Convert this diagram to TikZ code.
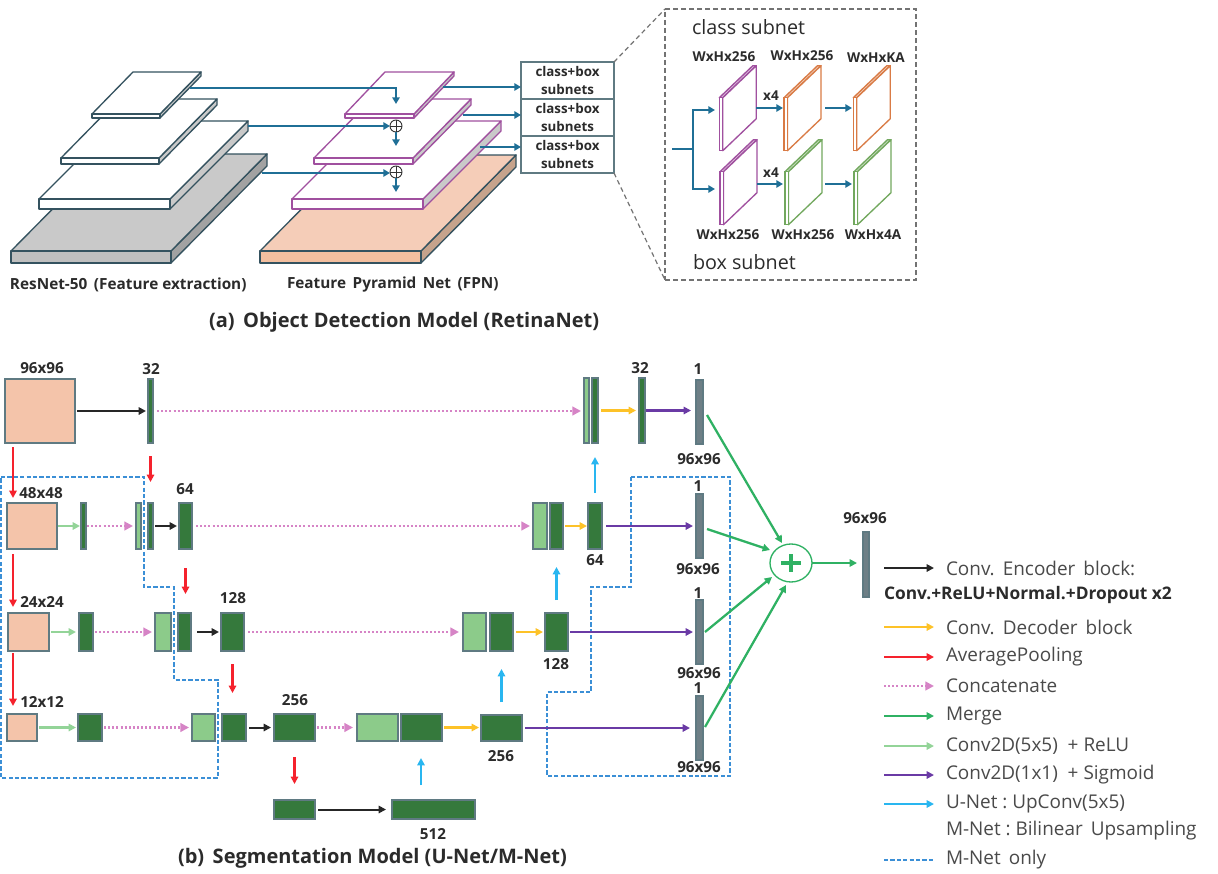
\documentclass[tikz,border=0pt]{standalone}
\usepackage{fontspec}
\setmainfont{Open Sans}
\usetikzlibrary{arrows.meta,shapes.geometric,calc}
\definecolor{cTeal}{HTML}{34525F}
\definecolor{cBlueAr}{HTML}{1F6F96}
\definecolor{cPurp}{HTML}{A0509F}
\definecolor{cOrg}{HTML}{D97B45}
\definecolor{cLeaf}{HTML}{72A85E}
\definecolor{cPeach}{HTML}{F4C4AA}
\definecolor{cPeachTop}{HTML}{F5CDB8}
\definecolor{cPeachFront}{HTML}{F3BF9F}
\definecolor{cPeachSide}{HTML}{C6A38C}
\definecolor{cGrayTop}{HTML}{C9C9C9}
\definecolor{cGraySide}{HTML}{A2A2A2}
\definecolor{cDark}{HTML}{35793C}
\definecolor{cLight}{HTML}{8CCB8A}
\definecolor{cCol}{HTML}{6E7F86}
\definecolor{cEdge}{HTML}{5F7A82}
\definecolor{cRedAr}{HTML}{F5222D}
\definecolor{cPink}{HTML}{D684C6}
\definecolor{cMerge}{HTML}{2FB163}
\definecolor{cLG}{HTML}{93D498}
\definecolor{cViolet}{HTML}{6A3AA5}
\definecolor{cSky}{HTML}{29B6F0}
\definecolor{cYel}{HTML}{FDC228}
\definecolor{cDash}{HTML}{3B8FD6}
\definecolor{cText}{HTML}{2B2B2B}
\definecolor{cLeg}{HTML}{4A4A4A}
\tikzset{
 x=0.75pt,y=-0.75pt,
 every node/.style={text=cText,inner sep=0pt,outer sep=0pt},
 lab/.style={font=\bfseries\fontsize{11.4}{13}\selectfont},
 capt/.style={font=\bfseries\fontsize{11.5}{13}\selectfont,anchor=west},
 title/.style={font=\bfseries\fontsize{15}{17}\selectfont,anchor=west},
 sub/.style={font=\fontsize{14.8}{17}\selectfont,anchor=west},
 wh/.style={font=\fontsize{10.2}{12}\selectfont\bfseries},
 subbox/.style={draw=cEdge,line width=1pt,fill=white},
 subtxt/.style={align=center,font=\bfseries\fontsize{10}{13.2}\selectfont},
 inp/.style={draw=cEdge,line width=1pt,fill=cPeach},
 dk/.style={draw=cEdge,line width=1pt,fill=cDark},
 lt/.style={draw=cEdge,line width=1pt,fill=cLight},
 col/.style={draw=cEdge,line width=1pt,fill=cCol},
 tipA/.style={-{Triangle[length=5.5pt,width=5.5pt]}},
 gap/.style 2 args={shorten <=#1*0.75pt,shorten >=#2*0.75pt},
 arB/.style={tipA,draw=black!85,line width=1.5pt},
 arR/.style={tipA,draw=cRedAr,line width=1.7pt},
 arP/.style={-{Triangle[length=6.5pt,width=6.5pt]},draw=cPink,line width=1.6pt,dash pattern=on 1.5pt off 1.6pt},
 arM/.style={tipA,draw=cMerge,line width=1.7pt},
 arL/.style={tipA,draw=cLG,line width=1.7pt},
 arV/.style={tipA,draw=cViolet,line width=1.8pt},
 arS/.style={tipA,draw=cSky,line width=1.7pt},
 arY/.style={tipA,draw=cYel,line width=1.7pt},
 arT/.style={-{Triangle[length=5pt,width=5.5pt]},draw=cBlueAr,line width=1.6pt},
 mnet/.style={draw=cDash,line width=1.4pt,dash pattern=on 3.2pt off 1.6pt},
 greyd/.style={draw=black!55,line width=0.9pt,dash pattern=on 3.5pt off 2.5pt},
 leg/.style={font=\fontsize{14.2}{16}\selectfont,anchor=west,text=cLeg},
}
% name x0 x1 y0 y1 style
\newcommand\blk[6]{\node[#6,minimum width={(#3-#2)*0.75pt},minimum height={(#5-#4)*0.75pt}] (#1) at ({(#2+#3)/2},{(#4+#5)/2}) {};}
\newcommand\layer[9]{%
 \filldraw[draw=\edgeC,fill=#9,line width=1pt,line join=round] (#2,#3) -- (#5,#6) -- (#5,{#6+#4-#3}) -- (#2,#4) -- cycle;
 \filldraw[draw=\edgeC,fill=#7,line width=1pt,line join=round] (#1,#3) -- (#2,#3) -- (#5,#6) -- ({#5-#2+#1},#6) -- cycle;
 \filldraw[draw=\edgeC,fill=#8,line width=1pt,line join=round] (#1,#3) rectangle (#2,#4);
}
\newcommand\plate[3]{%
 \filldraw[draw=#3,fill=#3!35,line width=1pt,line join=round] (#1,#2) -- ({#1+33.5},{#2-32}) -- ({#1+37},{#2-32}) -- ({#1+3.5},#2) -- cycle;
 \filldraw[draw=#3,fill=white,line width=1pt,line join=round] ({#1+3.5},#2) -- ({#1+37},{#2-32}) -- ({#1+37},{#2+21}) -- ({#1+3.5},{#2+53}) -- cycle;
 \filldraw[draw=#3,fill=white,line width=1pt] (#1,#2) rectangle ({#1+3.5},{#2+53});
}
\newcommand\legnd[4]{%
 \coordinate (#1a) at (884,#2);
 \coordinate (#1b) at (934,#2);
 \draw[#3] (#1a) -- (#1b);
 \node[leg] (#1t) at (946,#2) {#4};
}
\begin{document}
\begin{tikzpicture}
\useasboundingbox (0,0) rectangle (1218,874);
\fill[white] (0,0) rectangle (1218,874);
%%%% (a)
\def\edgeC{cTeal}
\layer{11}{171}{251}{263}{267}{154}{cGrayTop}{cGrayTop!95!black}{cGraySide}
\layer{39}{170}{199}{209}{248}{121}{white}{white}{cGrayTop}
\layer{61}{159}{158}{164}{217}{99}{white}{white}{cGrayTop}
\layer{92}{160}{114}{118}{201}{72}{white}{white}{cGrayTop}
\layer{260}{421}{251}{263}{516}{155}{cPeachTop}{cPeachFront}{cPeachSide}
\def\edgeC{cPurp}
\layer{292}{423}{199}{209}{501}{121}{white}{white}{cGrayTop}
\layer{314}{413}{158}{164}{471}{99}{white}{white}{cGrayTop}
\layer{345}{414}{114}{118}{454}{72}{white}{white}{cGrayTop}

\node[capt] (capR) at (10,285) {ResNet-50\ \,(Feature extraction)};
\node[capt] (capF) at (287,285) {Feature\ \,Pyramid\ \,Net\ \,(FPN)};
\node[title] (titA) at (209,322) {(a)\ \,Object Detection Model (RetinaNet)};

\blk{sb1}{521}{614}{62}{99}{subbox}
\blk{sb2}{521}{614}{99}{136}{subbox}
\blk{sb3}{521}{614}{136}{173}{subbox}
\node[subtxt] (sbt1) at (sb1) {class+box\\subnets};
\node[subtxt] (sbt2) at (sb2) {class+box\\subnets};
\node[subtxt] (sbt3) at (sb3) {class+box\\subnets};

\node[circle,draw=black!80,fill=white,line width=0.7pt,minimum size=9pt] (op1) at (396,126) {};
\node[circle,draw=black!80,fill=white,line width=0.7pt,minimum size=9pt] (op2) at (396,172) {};
\draw[black!80,line width=0.7pt] (op1.north)--(op1.south) (op1.west)--(op1.east) (op2.north)--(op2.south) (op2.west)--(op2.east);

\coordinate (r1) at (190,88); \coordinate (f1) at (396,104);
\draw[arT] (r1) -| (f1);
\coordinate (r2) at (248,126); \draw[arT] (r2) -- (op1.west);
\coordinate (r3) at (262,173); \draw[arT] (r3) -- (r3 -| op2.west);
\coordinate (f2) at (396,146); \draw[arT] (op1.south) -- (f2);
\coordinate (f3) at (396,192); \draw[arT] (op2.south) -- (f3);
\coordinate (o1) at (443,87); \draw[arT] (o1) -- (o1 -| sb1.west);
\coordinate (o2) at (463,115); \draw[arT] (o2) -- (o2 -| sb2.west);
\coordinate (o3) at (480,147); \draw[arT] (o3) -- (o3 -| sb3.west);

\blk{dbox}{665}{916}{9}{280}{greyd}
\draw[greyd] (sb1.north east) -- (dbox.north west);
\draw[greyd] (sb3.south east) -- (dbox.south west);

\node[sub] (sCl) at (692,27) {class subnet};
\node[sub] (sBx) at (693,262) {box subnet};
\plate{719.3}{97.7}{cPurp}
\plate{784}{97.7}{cOrg}
\plate{853.3}{97.7}{cOrg}
\plate{720}{171.7}{cPurp}
\plate{785}{171.7}{cLeaf}
\plate{854}{171.7}{cLeaf}
\node[wh] (w1) at (724,57) {WxHx256};
\node[wh] (w2) at (802,56) {WxHx256};
\node[wh] (w3) at (876,58) {WxHxKA};
\node[wh] (w4) at (728,235) {WxHx256};
\node[wh] (w5) at (803,235) {WxHx256};
\node[wh] (w6) at (873,235) {WxHx4A};
\node[wh] (x1) at (771,96) {x4};
\node[wh] (x2) at (771,173) {x4};
\coordinate (ia) at (672,149); \coordinate (ib) at (693,149);
\coordinate (it) at (715,110); \coordinate (ic) at (715,189);
\draw[cBlueAr,line width=1.6pt] (ia) -- (ib);
\draw[arT] (ib) |- (it);
\draw[arT] (ib) |- (ic);
\coordinate (j1) at (756,108); \coordinate (j2) at (783,108); \draw[arT] (j1) -- (j2);
\coordinate (j3) at (825,108); \coordinate (j4) at (852,108); \draw[arT] (j3) -- (j4);
\coordinate (j5) at (757,184); \coordinate (j6) at (783,184); \draw[arT] (j5) -- (j6);
\coordinate (j7) at (825,184); \coordinate (j8) at (852,184); \draw[arT] (j7) -- (j8);

%%%% (b) M-Net dashed outlines
\draw[mnet] (1,477) -- (144,477) -- (144,587) -- (174,587) -- (174,680) -- (218,680) -- (218,778) -- (1,778) -- cycle;
\draw[mnet] (631,477) -- (730,477) -- (730,776) -- (547,776) -- (547,692) -- (591,692) -- (591,587) -- (631,587) -- cycle;

% row 1
\blk{in1}{5}{75}{379}{443}{inp}
\blk{a32}{148}{153}{379}{443}{dk}
\blk{u1l}{584}{589}{378}{443}{lt}
\blk{u1d}{592}{598}{378}{443}{dk}
\blk{b32}{639}{645}{378}{443}{dk}
\blk{c1}{696}{703}{380}{444}{col}
% row 2
\blk{in2}{7}{57}{503}{549}{inp}
\blk{e2}{81}{86}{503}{549}{dk}
\blk{m2l}{136}{141}{503}{549}{lt}
\blk{m2d}{148}{153}{503}{549}{dk}
\blk{a64}{179}{192}{503}{549}{dk}
\blk{u2l}{533}{547}{503}{549}{lt}
\blk{u2d}{550}{563}{503}{549}{dk}
\blk{b64}{588}{602}{503}{549}{dk}
\blk{c2}{696}{703}{494}{558}{col}
% row 3
\blk{in3}{8}{49}{613}{651}{inp}
\blk{e3}{79}{93}{613}{651}{dk}
\blk{m3l}{155}{171}{613}{651}{lt}
\blk{m3d}{178}{191}{613}{651}{dk}
\blk{a128}{221}{244}{613}{651}{dk}
\blk{u3l}{463}{486}{613}{651}{lt}
\blk{u3d}{490}{513}{613}{651}{dk}
\blk{b128}{545}{568}{613}{651}{dk}
\blk{c3}{696}{703}{600}{664}{col}
% row 4
\blk{in4}{7}{37}{714}{741}{inp}
\blk{e4}{78}{102}{714}{741}{dk}
\blk{m4l}{192}{215}{714}{741}{lt}
\blk{m4d}{222}{246}{714}{741}{dk}
\blk{a256}{274}{315}{714}{741}{dk}
\blk{u4l}{357}{398}{714}{741}{lt}
\blk{u4d}{401}{442}{714}{741}{dk}
\blk{b256}{481}{522}{715}{741}{dk}
\blk{c4}{696}{703}{696}{760}{col}
% row 5
\blk{a5}{274}{315}{800}{819}{dk}
\blk{a512}{392}{475}{800}{819}{dk}
% merge
\node[ellipse,draw=cMerge,line width=1pt,fill=white,minimum width=31.5pt,minimum height=28.5pt] (mg) at (791,563) {};
\coordinate (pl) at (781,563); \coordinate (pr) at (801,563);
\coordinate (pt) at (791,554); \coordinate (pb) at (791,572);
\draw[cMerge,line width=3.6pt] (pl)--(pr) (pt)--(pb);
\blk{cout}{863}{869}{532}{597}{col}

% labels
\node[lab] (l1) at (42,368) {96x96};
\node[lab] (l2) at (151,369) {32};
\node[lab] (l3) at (41,493) {48x48};
\node[lab] (l4) at (185,489) {64};
\node[lab] (l5) at (42,602) {24x24};
\node[lab] (l6) at (233,598) {128};
\node[lab] (l7) at (42,702) {12x12};
\node[lab] (l8) at (295,700) {256};
\node[lab] (l9) at (433,834) {512};
\node[lab] (l10) at (501,756) {256};
\node[lab] (l11) at (556,664) {128};
\node[lab] (l12) at (595,560) {64};
\node[lab] (l13) at (640,368) {32};
\node[lab] (n1) at (698,369) {1};
\node[lab] (n2) at (698,486) {1};
\node[lab] (n3) at (698,593) {1};
\node[lab] (n4) at (698,688) {1};
\node[lab] (s1) at (699,459) {96x96};
\node[lab] (s2) at (698,569) {96x96};
\node[lab] (s3) at (699,673) {96x96};
\node[lab] (s4) at (699,767) {96x96};
\node[lab] (s5) at (865,518) {96x96};
\node[title] (titB) at (178,858) {(b)\ \,Segmentation Model (U-Net/M-Net)};

% row 1 arrows
\draw[arB,gap={2}{2}] (in1.east) -- (a32.west |- in1.east);
\draw[arP,gap={4}{3}] (a32.east) -- (a32.east -| u1l.west);
\draw[arY,gap={3}{3}] (u1d.east) -- (u1d.east -| b32.west);
\draw[arV,gap={1}{5}] (b32.east) -- (b32.east -| c1.west);
% row 2
\draw[arL,gap={1}{1}] (in2.east) -- (e2.west);
\draw[arP,gap={1}{3}] (e2.east) -- (m2l.west);
\draw[arB,gap={2}{2}] (m2d.east) -- (a64.west);
\draw[arP,gap={4}{3}] (a64.east) -- (u2l.west);
\draw[arY,gap={2}{1}] (u2d.east) -- (b64.west);
\draw[arV,gap={4}{3}] (b64.east) -- (b64.east -| c2.west);
% row 3
\draw[arL,gap={2}{3}] (in3.east) -- (e3.west);
\draw[arP,gap={2}{3}] (e3.east) -- (m3l.west);
\draw[arB,gap={6}{2}] (m3d.east) -- (a128.west);
\draw[arP,gap={4}{4}] (a128.east) -- (u3l.west);
\draw[arY,gap={3}{2}] (u3d.east) -- (b128.west);
\draw[arV,gap={2}{3}] (b128.east) -- (b128.east -| c3.west);
% row 4
\draw[arL,gap={2}{2}] (in4.east) -- (e4.west);
\draw[arP,gap={2}{3}] (e4.east) -- (m4l.west);
\draw[arB,gap={3}{3}] (m4d.east) -- (a256.west);
\draw[arP,gap={2}{4}] (a256.east) -- (u4l.west);
\draw[arY,gap={2}{2}] (u4d.east) -- (u4d.east -| b256.west);
\draw[arV,gap={3}{6}] (b256.east) -- (b256.east -| c4.west);
% row 5
\draw[arB,gap={3}{6}] (a5.east) -- (a512.west);
% reds
\coordinate (rx) at (13,0);
\draw[arR,gap={4}{5}] (in1.south -| rx) -- (in2.north -| rx);
\draw[arR,gap={5}{6}] (in2.south -| rx) -- (in3.north -| rx);
\draw[arR,gap={2}{8}] (in3.south -| rx) -- (in4.north -| rx);
\draw[arR,gap={13}{21}] (a32.south) -- (m2d.north);
\draw[arR,gap={19}{19}] (a64.south) -- (a64.south |- m3d.north);
\draw[arR,gap={13}{21}] (a128.south) -- (a128.south |- m4d.north);
\draw[arR,gap={16}{16}] (a256.south) -- (a5.north);
% blues
\draw[arS,gap={10}{14}] (b64.north) -- (b64.north |- u1d.south);
\draw[arS,gap={13}{18}] (b128.north) -- (b128.north |- b64.south);
\draw[arS,gap={13}{18}] (b256.north) -- (b256.north |- u3d.south);
\coordinate (bx) at (421,0);
\draw[arS,gap={15}{17}] (a512.north -| bx) -- (u4d.south -| bx);
% merge arrows
\coordinate (g1) at (707,415); \coordinate (h1) at (782,543); \draw[arM] (g1) -- (h1);
\coordinate (g2) at (707,529); \coordinate (h2) at (770,550); \draw[arM] (g2) -- (h2);
\coordinate (g3) at (705,632); \coordinate (h3) at (772,577); \draw[arM] (g3) -- (h3);
\coordinate (g4) at (705,727); \coordinate (h4) at (786,585); \draw[arM] (g4) -- (h4);
\draw[arM,line width=1.3pt,gap={0}{6}] (mg.east) -- (mg.east -| cout.west);

% legend
\legnd{la}{568}{arB}{Conv.\ \,Encoder\ \,block:}
\node[font=\bfseries\fontsize{13}{15}\selectfont,anchor=west] (lbold) at (884,595) {Conv.+ReLU+Normal.+Dropout x2};
\legnd{lb}{627}{arY}{Conv.\ \,Decoder\ \,block}
\legnd{lc}{657}{arR}{AveragePooling}
\legnd{ld}{686}{arP}{Concatenate}
\legnd{le}{716}{arM}{Merge}
\legnd{lf}{746}{arL}{Conv2D(5x5)\ \ +\ ReLU}
\legnd{lg}{775}{arV}{Conv2D(1x1)\ \ +\ Sigmoid}
\legnd{lh}{804}{arS}{U-Net\ :\ UpConv(5x5)}
\node[leg] (lm) at (946,831) {M-Net\ :\ Bilinear\ \,Upsampling};
\coordinate (lia) at (884,860); \coordinate (lib) at (934,860);
\draw[mnet] (lia) -- (lib);
\node[leg] (lit) at (946,860) {M-Net\ \,only};
\end{tikzpicture}
\end{document}
